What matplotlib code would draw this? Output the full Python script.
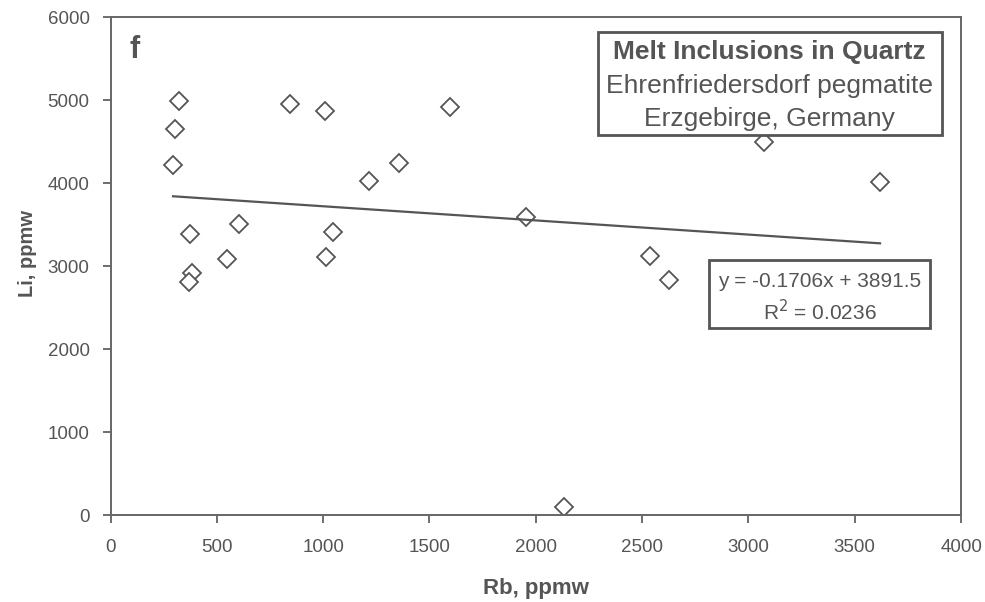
import numpy as np
import matplotlib
matplotlib.use("Agg")
import matplotlib.pyplot as plt
from matplotlib.patches import Rectangle

# Rb vs Li in melt inclusions
rb = [322, 302, 294, 374, 383, 368, 546, 603, 846, 1007, 1045, 1015,
      1214, 1355, 1597, 1953, 2539, 2628, 3071, 3619, 2133]
li = [4988, 4654, 4217, 3382, 2912, 2804, 3084, 3502, 4955, 4871, 3414, 3112,
      4028, 4237, 4912, 3587, 3125, 2831, 4490, 4008, 100]
slope = -0.1706
intercept = 3891.5
r2 = 0.0236

plt.rcParams['font.family'] = ['Liberation Sans', 'DejaVu Sans']
gray = '#555555'

fig = plt.figure(figsize=(9.85, 6.02), dpi=100)
ax = fig.add_axes([0.1122, 0.1445, 0.8635, 0.827])

ax.plot(rb, li, linestyle='none', marker='D', markersize=9.5,
        markerfacecolor='white', markeredgecolor=gray, markeredgewidth=1.3)
xfit = np.array([min(rb), max(rb)])
ax.plot(xfit, slope * xfit + intercept, color=gray, linewidth=1.6)

ax.set_xlim(0, 4000)
ax.set_ylim(0, 6000)
ax.set_xticks(np.arange(0, 4001, 500))
ax.set_yticks(np.arange(0, 6001, 1000))
ax.tick_params(direction='out', length=6, width=1.2, colors=gray,
               labelsize=13.5)
ax.tick_params(axis='x', pad=11)
ax.tick_params(axis='y', pad=9)
for s in ax.spines.values():
    s.set_color('#666666')
    s.set_linewidth(1.4)

ax.set_xlabel('Rb, ppmw', fontsize=16, fontweight='bold', color=gray, labelpad=16)
ax.set_ylabel('Li, ppmw', fontsize=14.5, fontweight='bold', color=gray)
ax.yaxis.set_label_coords(-0.086, 0.525)

ax.text(0.028, 0.934, 'f', transform=ax.transAxes, fontsize=22,
        fontweight='bold', color=gray, ha='center', va='center')

# title box
ax.add_patch(Rectangle((0.573, 0.763), 0.404, 0.207, transform=ax.transAxes,
                       facecolor='white', edgecolor=gray, linewidth=2, zorder=5))
ax.text(0.775, 0.930, 'Melt Inclusions in Quartz', transform=ax.transAxes,
        fontsize=19, fontweight='bold', color=gray, ha='center', va='center', zorder=6)
ax.text(0.775, 0.862, 'Ehrenfriedersdorf pegmatite', transform=ax.transAxes,
        fontsize=19, color=gray, ha='center', va='center', zorder=6)
ax.text(0.775, 0.796, 'Erzgebirge, Germany', transform=ax.transAxes,
        fontsize=19, color=gray, ha='center', va='center', zorder=6)

# regression box
ax.add_patch(Rectangle((0.7036, 0.3755), 0.26, 0.1365, transform=ax.transAxes,
                       facecolor='white', edgecolor=gray, linewidth=2, zorder=5))
ax.text(0.8336, 0.4685, f'y = {slope}x + {intercept}', transform=ax.transAxes,
        fontsize=15, color=gray, ha='center', va='center', zorder=6)
ax.text(0.8336, 0.409, f'R$^2$ = {r2}', transform=ax.transAxes,
        fontsize=15, color=gray, ha='center', va='center', zorder=6)

fig.savefig('out.png', dpi=100)
